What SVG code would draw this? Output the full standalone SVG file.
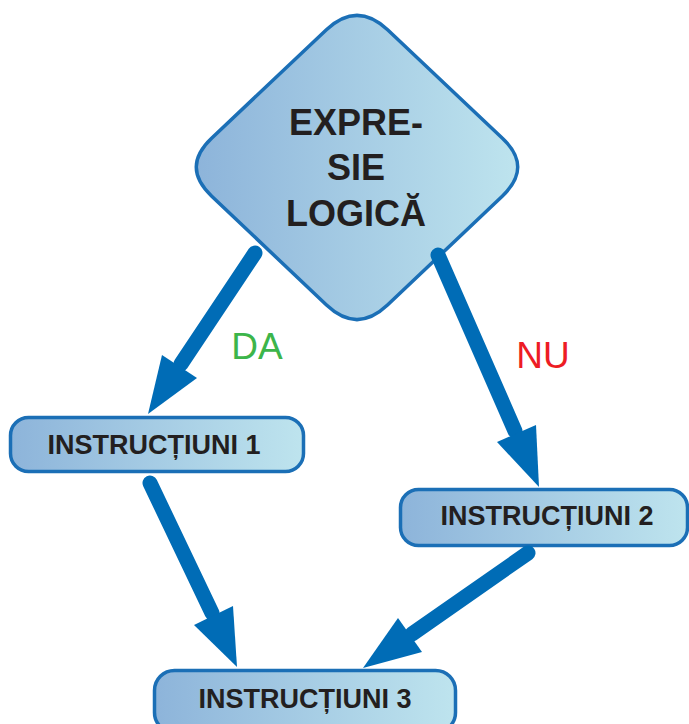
<svg xmlns="http://www.w3.org/2000/svg" width="689" height="724" viewBox="0 0 689 724">
<defs>
<linearGradient id="g" x1="0" y1="0" x2="1" y2="0">
<stop offset="0" stop-color="#8db4da"/>
<stop offset="1" stop-color="#bee4ee"/>
</linearGradient>
<style>
.shape{fill:url(#g);stroke:#1b6fb6;stroke-width:3.5}
.lbl{font-family:"Liberation Sans",Arial,sans-serif;font-weight:bold;fill:#231f20;text-anchor:middle}
.box{font-size:27px}
.big{font-size:36px}
.shaft{stroke:#006cb6;stroke-width:15;stroke-linecap:round;fill:none}
.head{fill:#006cb6}
.yn{font-family:"Liberation Sans",Arial,sans-serif;font-size:37px;text-anchor:middle}
</style>
</defs>
<rect width="689" height="724" fill="#ffffff"/>
<g id="decision">
<path class="shape" d="M326.4,29.8 Q357,1 387.6,29.8 L502.4,138.2 Q533,167 502.5,195.9 L387.5,305.1 Q357,334 326.5,305.1 L211.5,195.9 Q181,167 211.6,138.2 Z"/>
<text class="lbl big" x="356" y="135">EXPRE-</text>
<text class="lbl big" x="356" y="180">SIE</text>
<text class="lbl big" x="356" y="226">LOGICĂ</text>
</g>
<g id="instr1">
<rect class="shape" x="10.5" y="417.5" width="293" height="54" rx="18"/>
<text class="lbl box" x="154" y="454">INSTRUCȚIUNI 1</text>
</g>
<g id="instr2">
<rect class="shape" x="400.5" y="489.5" width="287" height="56" rx="18"/>
<text class="lbl box" x="547" y="525">INSTRUCȚIUNI 2</text>
</g>
<g id="instr3">
<rect class="shape" x="154.5" y="670.5" width="301" height="62" rx="20"/>
<text class="lbl box" x="305" y="708">INSTRUCȚIUNI 3</text>
</g>
<g id="connectors">
<line class="shaft" x1="255" y1="253" x2="181" y2="364"/>
<polygon class="head" points="148,414 162,355 197,378"/>
<line class="shaft" x1="438" y1="255" x2="515" y2="431"/>
<polygon class="head" points="539,487 497,442 536,425"/>
<line class="shaft" x1="150" y1="483" x2="212" y2="613"/>
<polygon class="head" points="237,667 194,625 233,606"/>
<line class="shaft" x1="528" y1="553" x2="412" y2="634"/>
<polygon class="head" points="363,668 398,618 422,652"/>
<text class="yn" x="257" y="359" fill="#3cb54a">DA</text>
<text class="yn" x="543" y="368" fill="#ed1c24">NU</text>
</g>
</svg>
